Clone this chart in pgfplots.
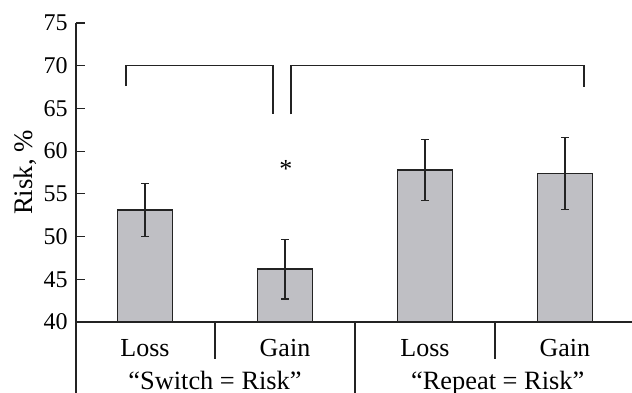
\documentclass[border=0pt]{standalone}
\usepackage{fontspec}
\setmainfont{Liberation Serif}
\usepackage{pgfplots}
\pgfplotsset{compat=1.18}
\definecolor{barfill}{RGB}{191,191,196}
\definecolor{ink}{RGB}{35,35,35}
\begin{document}
\fontsize{12}{14}\selectfont
\begin{tikzpicture}
\begin{axis}[
 scale only axis, width=278pt, height=149.5pt,
 xmin=-0.493, xmax=3.479, ymin=40, ymax=75,
 axis x line=bottom, axis y line=left,
 axis line style={-, ink, line width=0.6pt},
 ytick={40,45,...,75}, tick align=inside, major tick length=4.5pt,
 tick style={ink, line width=0.6pt},
 xtick={0,1,2,3}, xticklabels={Loss,Gain,Loss,Gain},
 xtick style={draw=none},
 xticklabel style={anchor=base, yshift=-13pt, font=\fontsize{13}{15}\selectfont},
 yticklabel style={font=\fontsize{12}{14}\selectfont},
 /pgf/number format/assume math mode=true,
 ylabel={Risk, \%},
 ylabel style={at={(axis description cs:-0.092,0.5)}, anchor=center, font=\fontsize{13.4}{15}\selectfont},
 clip mode=individual,
 ybar, bar width=27.5pt,
]
\addplot[fill=barfill, draw=ink, line width=0.6pt,
  error bars/.cd, y dir=both, y explicit,
  error bar style={ink, line width=0.6pt},
  error mark options={rotate=90, ink, mark size=2pt, line width=0.6pt}]
  coordinates {(0,53.1) +- (0,3.1) (1,46.2) +- (0,3.5) (2,57.8) +- (0,3.6) (3,57.4) +- (0,4.2)};
% y axis extension and separators
\draw[ink, line width=0.6pt] (axis cs:-0.493,40) -- (axis cs:-0.493,31.69);
\draw[ink, line width=0.6pt] (axis cs:0.5,40) -- (axis cs:0.5,35.67);
\draw[ink, line width=0.6pt] (axis cs:1.5,40) -- (axis cs:1.5,31.69);
\draw[ink, line width=0.6pt] (axis cs:2.5,40) -- (axis cs:2.5,35.67);
% group labels
\node[anchor=base, font=\fontsize{13.2}{15}\selectfont] at (axis cs:0.5,32.1) {“Switch = Risk”};
\node[anchor=base, font=\fontsize{13.2}{15}\selectfont] at (axis cs:2.52,32.1) {“Repeat = Risk”};
% brackets
\draw[ink, line width=0.6pt] (axis cs:-0.136,67.6) -- (axis cs:-0.136,70) -- (axis cs:0.914,70) -- (axis cs:0.914,64.3);
\draw[ink, line width=0.6pt] (axis cs:1.043,64.3) -- (axis cs:1.043,70) -- (axis cs:3.136,70) -- (axis cs:3.136,67.5);
\node[anchor=base, inner sep=0pt, font=\fontsize{13}{15}\selectfont] at (axis cs:1.007,56.9) {*};
\coordinate (bbA) at (axis cs:-1.036,31.69);
\coordinate (bbB) at (axis cs:3.479,77.69);
\end{axis}
\pgfresetboundingbox
\path (bbA) rectangle (bbB);
\end{tikzpicture}
\end{document}
